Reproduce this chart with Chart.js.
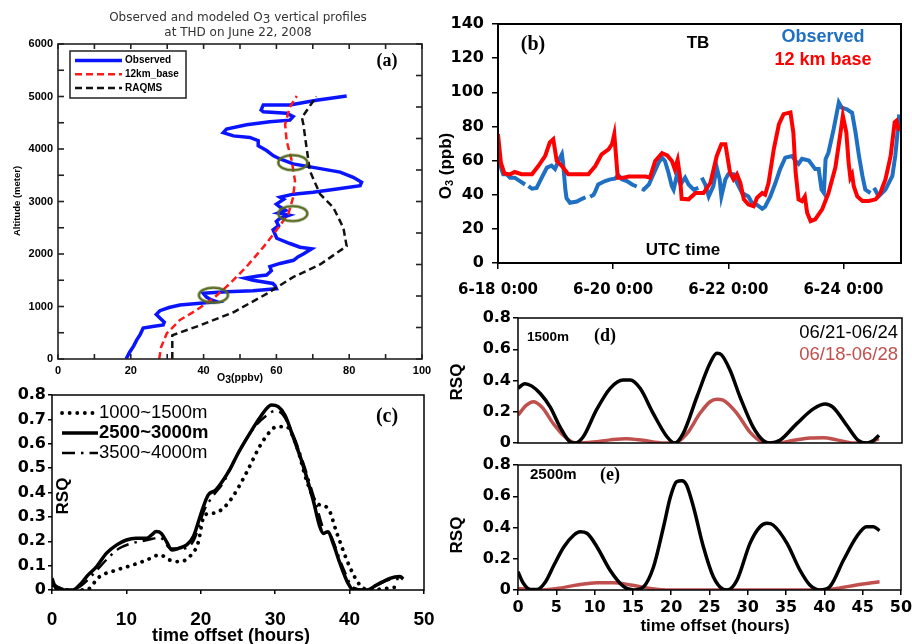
<!DOCTYPE html>
<html>
<head>
<meta charset="utf-8">
<script src="https://cdn.jsdelivr.net/npm/chart.js@4.4.1/dist/chart.umd.min.js"></script>
<style>
  body { margin: 0; background: #fff; }
  #fig { position: relative; width: 912px; height: 644px; }
  #fig canvas { position: absolute; left: 0; top: 0; }
</style>
</head>
<body>
<div id="fig">
  <canvas id="pa" width="912" height="644"></canvas>
  <canvas id="pb" width="912" height="644"></canvas>
  <canvas id="pc" width="912" height="644"></canvas>
  <canvas id="pd" width="912" height="644"></canvas>
  <canvas id="pe" width="912" height="644"></canvas>
</div>
<script>
// ---------- (a) vertical profiles at THD, altitude (m) vs O3 (ppbv) ----------
const obsAlt = [0, 120, 250, 360, 470, 590, 620, 650, 700, 780, 850, 920, 980, 1030, 1060, 1090, 1130, 1180, 1250, 1280,
  1300, 1340, 1400, 1440, 1500, 1540, 1580, 1600, 1680, 1760, 1820, 1880, 1950, 2000, 2100, 2130, 2200, 2300, 2380, 2460,
  2540, 2620, 2680, 2740, 2780, 2830, 2900, 2950, 3040, 3080, 3140, 3175, 3240, 3300, 3365, 3460, 3560, 3650, 3716, 3810,
  3870, 3970, 4060, 4160, 4220, 4250, 4310, 4380, 4460, 4520, 4550, 4620, 4680, 4710, 4745, 4840, 4840, 4930, 5010];
const obsO3 = [18.7, 19.6, 20.8, 21.6, 22.6, 23.4, 26, 28.9, 29.2, 28, 27, 28, 30.5, 33.5, 39, 43.6, 42, 40.8, 39.9, 46.3,
  53.6, 60, 59.6, 59, 53.6, 51.4, 55, 57.3, 58.6, 58.2, 61, 64.7, 66, 67.4, 69.7, 66.5, 63.7, 60.1, 59.6, 59.1,
  60.6, 60, 61, 63.5, 60.5, 62.5, 60.9, 60, 62, 61, 64.6, 70.1, 76.6, 83, 83.4, 81.1, 77.5, 70.1, 64.6, 61,
  59.2, 57.3, 55, 55, 52.7, 48.2, 45.4, 46.3, 51.8, 58.2, 63.7, 64.6, 62.8, 56.4, 55.8, 56.4, 63.7, 71, 79.3];
const baseAlt = [0, 220, 490, 743, 933, 1156, 1440, 1760, 2130, 2460, 2770, 3080, 3400, 3780, 4160, 4470, 4800, 5010];
const baseO3 = [27.8, 28.3, 29.9, 33.5, 38.1, 42.7, 47.3, 51.8, 56.4, 60.1, 63.3, 64.6, 65.1, 64.2, 62.8, 62.4, 63.7, 65.6];
const raqmsAlt = [0, 450, 460, 640, 890, 1240, 1560, 1800, 2150, 2500, 2890, 3140, 3580, 4020, 4470, 4600, 4910, 5000];
const raqmsO3 = [31.4, 31.4, 31.7, 39, 48.2, 57.3, 64.6, 72, 79.3, 78.4, 75.6, 72, 69.2, 68.3, 67.4, 67, 70.1, 71];
const ringAlt = [3740, 2770, 1215];
const ringO3 = [64.5, 64.5, 42.7];

// ---------- (b) surface O3 at TB, days after 6-18 0:00 UTC ----------
const obsDay = [0, 0.06, 0.09, 0.15, 0.21, 0.29, 0.38, 0.47, 0.5, 0.53, 0.59, 0.67, 0.76, 0.85, 0.93, 0.99, 1.05, 1.11, 1.13, 1.17,
  1.19, 1.25, 1.37, 1.46, 1.52, 1.56, 1.6, 1.66, 1.69, 1.74, 1.86, 1.95, 2.03, 2.09, 2.15, 2.24, 2.33, 2.41, 2.46, 2.5,
  2.53, 2.62, 2.7, 2.79, 2.85, 2.9, 2.96, 3.02, 3.05, 3.11, 3.17, 3.25, 3.31, 3.4, 3.48, 3.51, 3.54, 3.6, 3.66, 3.74,
  3.8, 3.85, 3.88, 3.95, 4.0, 4.09, 4.15, 4.24, 4.35, 4.41, 4.5, 4.59, 4.64, 4.73, 4.82, 4.9, 4.99, 5.11, 5.16, 5.22,
  5.28, 5.4, 5.51, 5.57, 5.62, 5.66, 5.69, 5.74, 5.83, 5.92, 5.97, 6.06, 6.15, 6.21, 6.27, 6.33, 6.38, 6.47, 6.5, 6.53,
  6.55, 6.61, 6.73, 6.85, 6.9, 6.97];
const obsPpb = [62.7, 55, 52, 52, 50, 50, 48, 46, null, 45, 43.5, 44, 50, 55.9, 57, 55, 59.8, 63.7, 58.8, 43,
  38, 35.3, 36, 37.6, 38.5, null, 38.8, 40, 42, 46, 48, 49, 49.4, 51.4, 49, 48, 46, 44.8, null, 43.5,
  43, 46, 52, 58.8, 61.7, 59.8, 53, 45, 43, 52, 46, 50, 46, 43, 44, null, 50, 46, 39, 45,
  55.9, 49, 39, 49, 52, 52, 47, 41, 39, 35.3, 34, 31.8, 33, 39, 47, 55, 61.7, 62.7, 60, 58,
  61, 60, 55, 55, 43, 41, 60.8, 64.7, 78.4, 94, 91, 90, 88, 76.5, 62.7, 51, 43, 41, null, 44,
  43, 39, 43, 51, 62.7, 87];
const modDay = [0, 0.05, 0.11, 0.21, 0.29, 0.41, 0.59, 0.7, 0.82, 0.9, 0.96, 1.02, 1.11, 1.22, 1.34, 1.57, 1.69, 1.8, 1.92, 1.98,
  2.02, 2.08, 2.18, 2.27, 2.44, 2.56, 2.64, 2.73, 2.85, 2.94, 3.02, 3.07, 3.12, 3.16, 3.19, 3.31, 3.43, 3.57, 3.69, 3.8,
  3.88, 3.95, 4.03, 4.09, 4.15, 4.21, 4.27, 4.35, 4.44, 4.5, 4.59, 4.64, 4.7, 4.79, 4.88, 4.96, 5.08, 5.13, 5.17, 5.22,
  5.28, 5.33, 5.37, 5.43, 5.51, 5.63, 5.74, 5.86, 5.95, 5.99, 6.05, 6.09, 6.12, 6.15, 6.18, 6.24, 6.33, 6.44, 6.56, 6.64,
  6.73, 6.82, 6.89, 6.92, 6.97];
const modPpb = [75.5, 58.8, 52.5, 51.9, 53.3, 52, 52, 56.8, 62.7, 70.6, 72.5, 59.8, 56.8, 52, 52, 52, 56.8, 63.7, 66.6, 69.6,
  75.5, 50, 50, 50.6, 50.6, 50.6, 50, 59.8, 64.3, 63, 59.8, 55, 60.4, 51, 37.6, 37.3, 41, 41, 47, 62.7,
  69.6, 69.6, 53, 49, 52, 47, 37.3, 34.3, 33.3, 38.2, 41, 40, 47, 66.6, 81.4, 87.2, 88.2, 76.5, 53, 37.3,
  36.3, 39, 29.4, 24.5, 25.5, 31.4, 41, 55.9, 76.5, 86.2, 76.5, 58.8, 50, 52, 45, 39, 36.3, 36.3, 37.3, 41,
  49, 62.7, 82.4, 83.3, 77.4];
const tickDays = [0, 2, 4, 6];
const tickDates = ['6-18 0:00', '6-20 0:00', '6-22 0:00', '6-24 0:00'];

// ---------- (c) RSQ vs time offset for three layers ----------
const hrsLow = [0.1, 1.8, 4.6, 6.4, 8.7, 10.9, 12.7, 14.5, 15.8, 17.2, 18.5, 19.6, 20.5, 21.7, 23, 24.3, 26.1, 27.9, 29.3, 30.2,
  31.5, 32.9, 34.2, 35.6, 37.1, 38.3, 40, 41.4, 42.7, 45, 46.8];
const rsqLow = [0.02, 0, 0, 0.055, 0.082, 0.103, 0.123, 0.144, 0.123, 0.116, 0.137, 0.19, 0.308, 0.315, 0.335, 0.383, 0.479, 0.588, 0.65, 0.67,
  0.67, 0.588, 0.451, 0.356, 0.335, 0.232, 0.096, 0.02, 0, 0.007, 0.014];
const hrsMid = [0, 0.4, 1, 2.8, 3.7, 4.8, 6, 7.3, 8.7, 10, 11.3, 12.7, 13.4, 14, 14.7, 15.4, 16.1, 17, 18.1, 19,
  20.1, 21, 22, 23, 24, 25, 26.6, 28, 29.5, 30.4, 31.3, 32.4, 33.8, 35.1, 36, 36.5, 37.1, 37.8, 38.7, 39.8,
  40.5, 42.3, 43.6, 45.4, 46.8, 47.2];
const rsqMid = [0.048, 0.014, 0, 0, 0.02, 0.06, 0.096, 0.15, 0.185, 0.205, 0.212, 0.212, 0.226, 0.24, 0.232, 0.198, 0.164, 0.171, 0.185, 0.219,
  0.32, 0.39, 0.41, 0.45, 0.5, 0.56, 0.643, 0.71, 0.759, 0.752, 0.718, 0.629, 0.506, 0.369, 0.26, 0.232, 0.239, 0.19, 0.11, 0.027,
  0, 0, 0.02, 0.048, 0.055, 0.045];
const hrsHigh = [0, 1, 2.5, 4, 6, 7.5, 9, 10.5, 12, 13.5, 14.5, 16, 17.5, 19, 20.5, 21.5, 23, 25, 27, 29,
  30, 31, 32.5, 34, 35.5, 36.5, 37.5, 39, 40.5, 42.5, 44, 46, 47];
const rsqHigh = [0.03, 0.01, 0, 0.02, 0.08, 0.13, 0.17, 0.19, 0.2, 0.21, 0.215, 0.17, 0.17, 0.2, 0.33, 0.38, 0.44, 0.56, 0.66, 0.72,
  0.735, 0.72, 0.63, 0.5, 0.35, 0.25, 0.22, 0.1, 0.01, 0, 0.025, 0.045, 0.045];

// ---------- (d) 1500 m and (e) 2500 m, two comparison periods ----------
const hrsD1 = [0, 0.9, 1.8, 2.9, 4.2, 5.5, 6.8, 7.4, 8.5, 10.2, 12, 13.7, 14.6, 15.9, 17.6, 19.4, 20.4, 21.5, 23.3, 25,
  25.9, 26.5, 27.6, 28.9, 30.6, 31.9, 32.8, 34.1, 36.3, 38.5, 40, 41, 42.8, 44.3, 45.4, 46.3, 47];
const rsqD1 = [0.35, 0.38, 0.364, 0.317, 0.23, 0.1, 0.006, 0, 0.04, 0.21, 0.35, 0.403, 0.403, 0.35, 0.19, 0.04, 0, 0.06, 0.296, 0.51,
  0.574, 0.564, 0.467, 0.296, 0.103, 0.017, 0, 0.017, 0.124, 0.22, 0.25, 0.23, 0.114, 0.017, 0, 0.017, 0.05];
const hrsD2 = [0, 1.1, 2, 3.1, 4.6, 6.1, 7.6, 9.8, 12, 14.1, 16.3, 18.9, 20.4, 22, 23.7, 25, 25.9, 26.7, 28.5, 30.2,
  31.9, 33.7, 35.9, 38, 39.8, 41.5, 43.7, 45.4, 47];
const rsqD2 = [0.178, 0.242, 0.264, 0.23, 0.124, 0.04, 0, 0.006, 0.02, 0.028, 0.017, 0, 0, 0.06, 0.19, 0.264, 0.28, 0.274, 0.19, 0.07,
  0.006, 0, 0.017, 0.032, 0.034, 0.02, 0, 0, 0.028];
const hrsE1 = [0, 0.7, 1.6, 2.5, 3.6, 4.7, 6, 7.3, 8.1, 9, 10.3, 12, 13.8, 15.1, 16.4, 17.7, 19, 19.9, 20.7, 21.4,
  22, 22.9, 24.2, 25.5, 26.8, 27.3, 28.6, 30.3, 31.6, 32.5, 33.3, 35.1, 36.8, 38.1, 39.4, 40.7, 42.5, 44.2, 45.5, 46.4,
  47.2];
const rsqE1 = [0.117, 0.043, 0.004, 0.004, 0.053, 0.16, 0.277, 0.352, 0.373, 0.363, 0.277, 0.128, 0.021, 0, 0.021, 0.149, 0.405, 0.597, 0.693, 0.7,
  0.672, 0.533, 0.277, 0.085, 0.004, 0, 0.064, 0.3, 0.405, 0.427, 0.416, 0.3, 0.128, 0.032, 0, 0.021, 0.192, 0.341, 0.405, 0.405,
  0.38];
const hrsE2 = [0, 2.5, 5.1, 7.7, 10.3, 12.5, 14.7, 17.3, 19.9, 25, 30, 35, 40, 41.6, 44.2, 47.2];
const rsqE2 = [0.01, 0, 0.01, 0.032, 0.047, 0.047, 0.032, 0.01, 0, 0, 0, 0, 0, 0.01, 0.032, 0.053];

// ---------- helpers ----------
const W = 912, H = 644;
const SANS = '"Liberation Sans", Arial, sans-serif';
const WIDE = '"DejaVu Sans", Verdana, sans-serif';
const SERIF = '"Liberation Serif", "Times New Roman", serif';
const fontStr = (size, bold, fam) => (bold ? 'bold ' : '') + size + 'px ' + (fam || SANS);
const pts = (xs, ys) => xs.map((x, i) => ({ x: x, y: ys[i] }));

// chart area edges l,t,r,b on the page; yw / xh are the fixed axis box sizes
function area(l, t, r, b, yw, xh) {
  return { padding: { left: l - yw, top: t, right: W - r, bottom: H - b - xh } };
}

function axis(o) {
  return {
    type: 'linear', min: o.min, max: o.max,
    border: { display: false },
    grid: { display: !!o.tick, drawOnChartArea: false, tickLength: o.tick || 0, color: '#000', lineWidth: 1.5 },
    ticks: {
      display: o.labels !== false, stepSize: o.step, padding: o.pad || 0, color: '#000',
      includeBounds: o.bounds !== false, autoSkip: false, maxRotation: 0,
      font: { family: o.family || SANS, size: o.size || 14, weight: 'bold' },
      callback: o.cb
    },
    afterFit: s => {
      if (s.isHorizontal()) s.height = o.fit; else s.width = o.fit;
      s.paddingLeft = s.paddingRight = s.paddingTop = s.paddingBottom = 0;
    }
  };
}

function line(label, xs, ys, color, width, extra) {
  return Object.assign({
    label: label, data: pts(xs, ys), showLine: true, fill: false,
    borderColor: color, backgroundColor: color, borderWidth: width, pointRadius: 0
  }, extra || {});
}

const oneDec = v => v === 0 ? '0' : v.toFixed(1);

// box around the plot area, optional inward minor ticks
const frame = {
  id: 'frame',
  afterDraw(chart, args, o) {
    const { ctx, chartArea: a, scales } = chart;
    ctx.save();
    ctx.strokeStyle = o.color || '#000';
    ctx.lineWidth = o.width || 1.5;
    ctx.strokeRect(a.left, a.top, a.right - a.left, a.bottom - a.top);
    (o.inner || []).forEach(t => {
      const s = scales[t.axis];
      for (let v = s.min; v <= s.max + 1e-9; v += t.step) {
        const p = s.getPixelForValue(v);
        ctx.beginPath();
        if (t.side === 'left') { ctx.moveTo(a.left, p); ctx.lineTo(a.left + t.len, p); }
        if (t.side === 'right') { ctx.moveTo(a.right, p); ctx.lineTo(a.right - t.len, p); }
        if (t.side === 'bottom') { ctx.moveTo(p, a.bottom); ctx.lineTo(p, a.bottom - t.len); }
        if (t.side === 'top') { ctx.moveTo(p, a.top); ctx.lineTo(p, a.top + t.len); }
        ctx.stroke();
      }
    });
    ctx.restore();
  }
};

// free text: parts are [text, dy, sizeFactor] so O3 can carry a lowered 3
const notes = {
  id: 'notes',
  afterDraw(chart, args, o) {
    const ctx = chart.ctx;
    (o.items || []).forEach(n => {
      const parts = n.parts || [[n.text, 0, 1]];
      ctx.save();
      ctx.translate(n.x, n.y);
      if (n.rot) ctx.rotate(n.rot * Math.PI / 180);
      ctx.fillStyle = n.color || '#000';
      ctx.textBaseline = 'middle';
      ctx.textAlign = 'left';
      const fonts = parts.map(p => fontStr(n.size * (p[2] || 1), n.bold, n.family));
      let total = 0;
      const ws = parts.map((p, i) => { ctx.font = fonts[i]; const w = ctx.measureText(p[0]).width; total += w; return w; });
      let x = n.align === 'left' ? 0 : n.align === 'right' ? -total : -total / 2;
      parts.forEach((p, i) => { ctx.font = fonts[i]; ctx.fillText(p[0], x, p[1] || 0); x += ws[i]; });
      ctx.restore();
    });
  }
};

// line-sample legend built from the dataset styles
const key = {
  id: 'key',
  afterDraw(chart, args, o) {
    if (!o.rows) return;
    const ctx = chart.ctx;
    ctx.save();
    if (o.box) { ctx.strokeStyle = '#222'; ctx.lineWidth = 1.5; ctx.strokeRect(o.box[0], o.box[1], o.box[2], o.box[3]); }
    o.rows.forEach((r, i) => {
      const ds = chart.data.datasets[r.ds];
      const y = o.y + i * o.gap;
      ctx.strokeStyle = ds.borderColor;
      ctx.lineWidth = ds.borderWidth;
      ctx.lineCap = ds.borderCapStyle || 'butt';
      ctx.setLineDash(ds.borderDash || []);
      ctx.beginPath(); ctx.moveTo(o.x0, y); ctx.lineTo(o.x1, y); ctx.stroke();
      ctx.setLineDash([]);
      ctx.fillStyle = '#000';
      ctx.font = fontStr(o.size, r.bold !== undefined ? r.bold : o.bold);
      ctx.textBaseline = 'middle';
      ctx.fillText(ds.label, o.x1 + o.textGap, y);
    });
    ctx.restore();
  }
};

function base(layout, scales, plugins) {
  return {
    responsive: false, animation: false, layout: layout, scales: scales,
    elements: { line: { tension: 0 } },
    plugins: Object.assign({ legend: { display: false }, tooltip: { enabled: false } }, plugins)
  };
}
const PLUGS = [frame, notes, key];

// olive ring used to flag the three matching layers in (a)
const ring = document.createElement('canvas');
ring.width = 34; ring.height = 20;
(function () {
  const c = ring.getContext('2d');
  c.strokeStyle = '#55691f'; c.lineWidth = 2.6;
  c.beginPath(); c.ellipse(17, 10, 14.5, 7.5, 0, 0, 2 * Math.PI); c.stroke();
})();

// ---------- (a) ----------
new Chart(document.getElementById('pa'), {
  type: 'scatter',
  data: {
    datasets: [
      { label: 'rings', data: pts(ringO3, ringAlt), pointStyle: ring, pointRadius: 10, showLine: false },
      line('12km_base', baseO3, baseAlt, '#ff1a1a', 2.5, { borderDash: [7, 4] }),
      line('RAQMS', raqmsO3, raqmsAlt, '#111', 2.5, { borderDash: [7, 4] }),
      line('Observed', obsO3, obsAlt, '#0a14ff', 3.5)
    ]
  },
  options: base(area(58, 44, 422, 359, 58, 20), {
    x: axis({ min: 0, max: 100, step: 20, pad: 5, size: 11, fit: 20 }),
    y: axis({ min: 0, max: 6000, step: 1000, pad: 5, size: 11, fit: 58 })
  }, {
    frame: { width: 1.6, color: '#222', inner: [
      { axis: 'y', side: 'left', step: 500, len: 6 }, { axis: 'y', side: 'right', step: 600, len: 6 },
      { axis: 'x', side: 'bottom', step: 10, len: 5 }, { axis: 'x', side: 'top', step: 10, len: 5 }] },
    key: { box: [70, 51, 116, 47], x0: 75, x1: 122, textGap: 3, y: 60.5, gap: 13.7, size: 10, bold: true,
      rows: [{ ds: 3 }, { ds: 1 }, { ds: 2 }] },
    notes: { items: [
      { parts: [['Observed and modeled O', 0], ['3', 2], [' vertical profiles', 0]], x: 238, y: 18, size: 12, color: '#333', family: WIDE },
      { text: 'at THD on June 22, 2008', x: 238, y: 33, size: 12, color: '#333', family: WIDE },
      { text: '(a)', x: 387, y: 61, size: 18, bold: true, family: SERIF },
      { text: 'Altitude (meter)', x: 17, y: 201, size: 9.5, bold: true, rot: -90 },
      { parts: [['O', 0], ['3', 2], ['(ppbv)', 0]], x: 240, y: 378, size: 10.5, bold: true }
    ] }
  }),
  plugins: PLUGS
});

// ---------- (b) ----------
new Chart(document.getElementById('pb'), {
  type: 'scatter',
  data: {
    datasets: [
      line('12 km base', modDay, modPpb, '#ff0000', 4),
      line('Observed', obsDay, obsPpb, '#1f6fc3', 4)
    ]
  },
  options: base(area(498, 24, 901, 263, 60, 40), {
    x: axis({ min: 0, max: 7, step: 2, tick: 6, pad: 12, size: 15, fit: 40, bounds: false, family: WIDE,
      cb: v => { const i = tickDays.indexOf(v); return i < 0 ? '' : tickDates[i]; } }),
    y: axis({ min: 0, max: 140, step: 20, tick: 6, pad: 8, size: 16, fit: 60, family: WIDE })
  }, {
    frame: { width: 2 },
    notes: { items: [
      { text: '(b)', x: 533, y: 45, size: 20, bold: true, family: SERIF },
      { text: 'TB', x: 698, y: 43, size: 17, bold: true },
      { text: 'Observed', x: 823, y: 37, size: 18, bold: true, color: '#1f6fc3' },
      { text: '12 km base', x: 823, y: 60, size: 18, bold: true, color: '#ff0000' },
      { text: 'UTC time', x: 683, y: 250, size: 17, bold: true },
      { parts: [['O', 0], ['3', 4, 0.65], [' (ppb)', 0]], x: 446, y: 166, size: 17, bold: true, rot: -90 }
    ] }
  }),
  plugins: PLUGS
});

// ---------- (c) ----------
new Chart(document.getElementById('pc'), {
  type: 'scatter',
  data: {
    datasets: [
      line('2500~3000m', hrsMid, rsqMid, '#000', 3.5, { cubicInterpolationMode: 'monotone' }),
      line('3500~4000m', hrsHigh, rsqHigh, '#000', 2.5, { cubicInterpolationMode: 'monotone', borderDash: [13, 6, 2.5, 6] }),
      line('1000~1500m', hrsLow, rsqLow, '#000', 3.8, { cubicInterpolationMode: 'monotone', borderDash: [0.1, 7.5], borderCapStyle: 'round' })
    ]
  },
  options: base(area(52, 395, 424, 590, 52, 40), {
    x: axis({ min: 0, max: 50, step: 10, tick: 4, pad: 14, size: 19, fit: 40 }),
    y: axis({ min: 0, max: 0.8, step: 0.1, tick: 4, pad: 2, size: 16, fit: 52, family: WIDE, cb: oneDec })
  }, {
    frame: { width: 1.5 },
    key: { x0: 62, x1: 98, textGap: 1, y: 413, gap: 20, size: 18.5, bold: false,
      rows: [{ ds: 2 }, { ds: 0, bold: true }, { ds: 1 }] },
    notes: { items: [
      { text: '(c)', x: 387, y: 417, size: 20, bold: true, family: SERIF },
      { text: 'RSQ', x: 63, y: 496, size: 17, bold: true, rot: -90 },
      { text: 'time offset (hours)', x: 231, y: 636, size: 18, bold: true }
    ] }
  }),
  plugins: PLUGS
});

// ---------- (d) ----------
new Chart(document.getElementById('pd'), {
  type: 'scatter',
  data: {
    datasets: [
      line('06/21-06/24', hrsD1, rsqD1, '#000', 3.5, { cubicInterpolationMode: 'monotone' }),
      line('06/18-06/28', hrsD2, rsqD2, '#c0504d', 3.5, { cubicInterpolationMode: 'monotone' })
    ]
  },
  options: base(area(518, 318, 902, 443, 40, 0), {
    x: axis({ min: 0, max: 50, step: 5, labels: false, fit: 0 }),
    y: axis({ min: 0, max: 0.8, step: 0.2, tick: 5, pad: 2, size: 16, fit: 40, family: WIDE, cb: oneDec })
  }, {
    frame: { width: 1.5 },
    notes: { items: [
      { text: '1500m', x: 527, y: 337, size: 13.5, bold: true, align: 'left' },
      { text: '(d)', x: 605, y: 336, size: 18, bold: true, family: SERIF },
      { text: '06/21-06/24', x: 898, y: 333, size: 18.5, align: 'right' },
      { text: '06/18-06/28', x: 898, y: 355, size: 18.5, align: 'right', color: '#c0504d' },
      { text: 'RSQ', x: 457, y: 382, size: 17, bold: true, rot: -90 }
    ] }
  }),
  plugins: PLUGS
});

// ---------- (e) ----------
new Chart(document.getElementById('pe'), {
  type: 'scatter',
  data: {
    datasets: [
      line('06/21-06/24', hrsE1, rsqE1, '#000', 3.5, { cubicInterpolationMode: 'monotone' }),
      line('06/18-06/28', hrsE2, rsqE2, '#c0504d', 3.5, { cubicInterpolationMode: 'monotone' })
    ]
  },
  options: base(area(518, 465, 901, 590, 40, 30), {
    x: axis({ min: 0, max: 50, step: 5, tick: 5, pad: 3, size: 16, fit: 30, family: WIDE }),
    y: axis({ min: 0, max: 0.8, step: 0.2, tick: 5, pad: 2, size: 16, fit: 40, family: WIDE, cb: oneDec })
  }, {
    frame: { width: 1.5 },
    notes: { items: [
      { text: '2500m', x: 530, y: 475, size: 15, bold: true, align: 'left' },
      { text: '(e)', x: 610, y: 475, size: 18, bold: true, family: SERIF },
      { text: 'RSQ', x: 457, y: 535, size: 17, bold: true, rot: -90 },
      { text: 'time offset (hours)', x: 715, y: 626, size: 17, bold: true }
    ] }
  }),
  plugins: PLUGS
});
</script>
</body>
</html>
